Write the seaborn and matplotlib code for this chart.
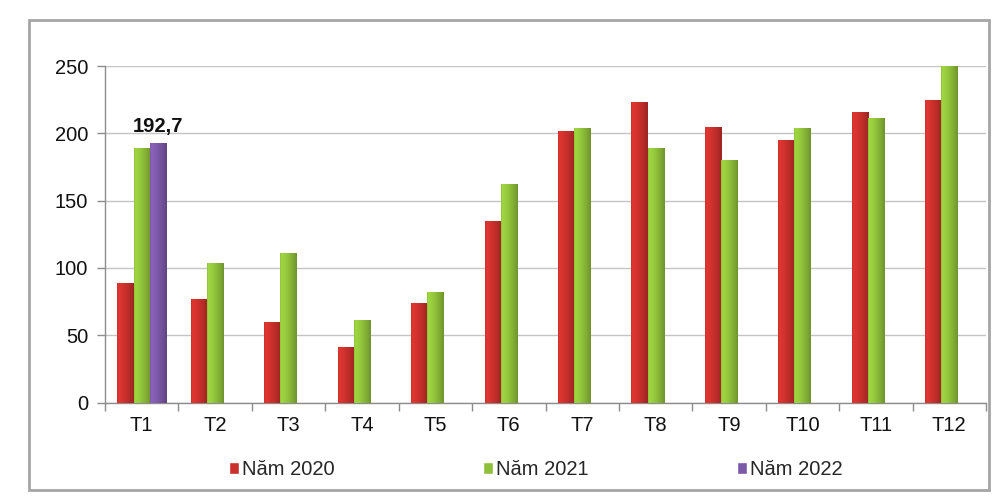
import numpy as np
import pandas as pd
import matplotlib

matplotlib.use("Agg")
import matplotlib.pyplot as plt
import matplotlib.colors as mcolors
from matplotlib.patches import Patch, Rectangle
import seaborn as sns

THANG = ["T1", "T2", "T3", "T4", "T5", "T6", "T7", "T8", "T9", "T10", "T11", "T12"]
NAM_2020 = [89, 77, 60, 41, 74, 135, 202, 223, 205, 195, 216, 225]
NAM_2021 = [189, 104, 111, 61, 82, 162, 204, 189, 180, 204, 211, 250]
NAM_2022 = [192.7] + [np.nan] * 11
SERIES = ["Năm 2020", "Năm 2021", "Năm 2022"]
COLORS = {"Năm 2020": "#c9302c", "Năm 2021": "#8fc03a", "Năm 2022": "#7c58a8"}

sns.set_theme(style="white")
plt.rcParams["font.family"] = ["Liberation Sans", "DejaVu Sans"]
FS = 14.5

df = pd.DataFrame({
    "thang": THANG * 3,
    "nam": [s for s in SERIES for _ in THANG],
    "gia_tri": NAM_2020 + NAM_2021 + NAM_2022,
})


def shade_bars(ax):
    # fake the cylinder look: horizontal light->dark gradient over each bar
    for p in list(ax.patches):
        h = p.get_height()
        if not np.isfinite(h) or h <= 0:
            continue
        base = np.array(mcolors.to_rgb(p.get_facecolor()))
        t = np.linspace(0, 1, 64)
        f = 1.12 - 0.35 * t ** 1.5
        f[:4] *= np.linspace(0.85, 1, 4)
        rgb = np.clip(base[None, :] * f[:, None], 0, 1)
        x0 = p.get_x()
        ax.imshow(rgb[None, :, :], extent=[x0, x0 + p.get_width(), 0, h],
                  aspect="auto", zorder=p.get_zorder() + 0.1, interpolation="bilinear")


fig = plt.figure(figsize=(10, 5.01), dpi=100)
ax = fig.add_axes([0.105, 1 - 402.5 / 501, 0.881, (402.5 - 66) / 501])

sns.barplot(data=df, x="thang", y="gia_tri", hue="nam", hue_order=SERIES,
            palette=COLORS, width=0.66, saturation=1, legend=False, ax=ax,
            zorder=3, linewidth=0)
shade_bars(ax)

lbl = ax.containers[2]
ax.bar_label(lbl, labels=["192,7"] + [""] * (len(lbl) - 1), padding=5,
             fontsize=FS, fontweight="bold", color="#111111")

ax.set_xlim(-0.5, len(THANG) - 0.5)
ax.set_ylim(0, 250)
ax.set_yticks([0, 50, 100, 150, 200, 250])
ax.set_xlabel("")
ax.set_ylabel("")
ax.yaxis.grid(True, color="#c4c4c4", lw=1, zorder=0)
ax.set_axisbelow(True)
for s in ["top", "right"]:
    ax.spines[s].set_visible(False)
for s in ["left", "bottom"]:
    ax.spines[s].set_color("#8c8c8c")
    ax.spines[s].set_linewidth(1)
ax.set_xticks(np.arange(-0.5, len(THANG), 1), minor=True)
ax.tick_params(axis="x", which="major", length=0, pad=10, labelsize=FS, labelcolor="#111111")
ax.tick_params(axis="x", which="minor", bottom=True, length=6, color="#8c8c8c", width=1)
ax.tick_params(axis="y", which="major", left=True, length=6, color="#8c8c8c", width=1,
               pad=6, labelsize=FS, labelcolor="#111111")

handles = [Patch(facecolor=COLORS[s], label=s) for s in SERIES]
ax.legend(handles=handles, loc="center", bbox_to_anchor=(0.489, -0.2), ncol=3,
          frameon=False, fontsize=FS, handlelength=0.5, handleheight=0.5,
          handletextpad=0.15, columnspacing=7.35)

fig.patches.append(Rectangle((29 / 1000, 1 - 490 / 501), 960 / 1000, 470 / 501,
                             transform=fig.transFigure, fill=False,
                             edgecolor="#a6a6a6", lw=2))

fig.savefig("out.png", dpi=100, facecolor="white")
